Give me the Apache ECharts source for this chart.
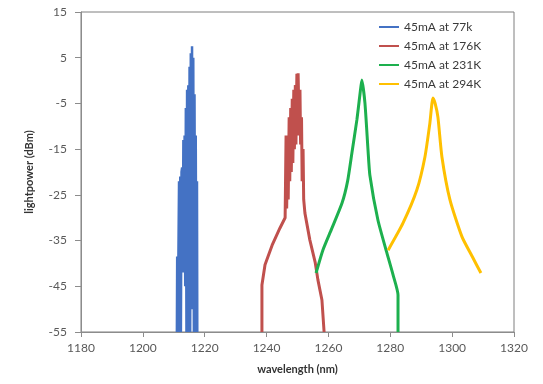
<!DOCTYPE html>
<html>
<head>
<meta charset="utf-8">
<script src="https://cdn.jsdelivr.net/npm/echarts@6/dist/echarts.min.js"></script>
<style>
  html, body { margin: 0; padding: 0; background: #fff; }
  #chart { width: 543px; height: 384px; }
</style>
</head>
<body>
<div id="chart"></div>
<script>
// legend names
const seriesNames = ['45mA at 77k', '45mA at 176K', '45mA at 231K', '45mA at 294K']
const seriesColors = ['#4472C4', '#C0504D', '#1DB04E', '#FFC000']

// 77K : very narrow, noisy peak
const wl77 = [1211.0, 1211.1, 1211.3, 1211.5, 1211.7, 1211.9, 1212.1, 1212.3, 1212.5, 1212.7, 1212.9, 1213.1, 1213.3, 1213.5, 1213.7, 1213.9, 1214.1, 1214.3, 1214.5, 1214.7, 1214.9, 1215.1, 1215.3, 1215.5, 1215.7, 1215.9, 1216.1, 1216.3, 1216.5, 1216.7, 1216.9, 1217.1, 1217.3, 1217.5, 1217.6]
const pw77 = [-55, -38.5, -55, -38, -22, -55, -21, -55, -20, -19, -42, -13, -42, -12, -45, -6, -55, -2, -20, -1, -55, 3, -55, 6, -50, 7.5, -45, 5, -55, -3, -55, -12, -55, -22, -55]

// 176K
const wl176 = [1238.5, 1238.5, 1239.5, 1241.8, 1244.3, 1246.0, 1246.3, 1246.5, 1246.8, 1247.0, 1247.3, 1247.5, 1247.8, 1248.0, 1248.3, 1248.5, 1248.8, 1249.0, 1249.3, 1249.5, 1249.8, 1250.0, 1250.2, 1250.5, 1250.8, 1251.0, 1251.3, 1251.5, 1251.8, 1252.0, 1252.4, 1254.0, 1255.7, 1256.6, 1257.9, 1258.6]
const pw176 = [-55, -44.7, -40.3, -36, -32.3, -30, -12, -28, -14, -26, -8, -22, -6, -20, -4, -18, -2, -15, -1, -14, 1.5, -12, 1.6, -10, -2, -14, -8, -22, -15, -26, -29, -34.9, -39.7, -43.6, -48, -55]

// 231K
const wl231 = [1256.0, 1258.2, 1261.0, 1264.4, 1266.2, 1267.6, 1269.2, 1270.2, 1270.8, 1271.8, 1272.8, 1273.4, 1276.0, 1278.9, 1280.9, 1282.5, 1282.5]
const pw231 = [-42.1, -37.1, -32.5, -26.8, -22, -15.8, -8.6, -3, 0.1, -4.9, -15.2, -20.7, -30.5, -37.7, -42.5, -46.9, -55]

// 294K
const wl294 = [1279.3, 1284.1, 1288.6, 1291.2, 1292.8, 1293.8, 1294.5, 1295.4, 1296.7, 1299.3, 1303.2, 1306.5, 1309.3]
const pw294 = [-37.1, -31.2, -23.9, -16.7, -9.3, -3.8, -5, -8, -16.7, -26.1, -34.2, -38.5, -42.1]

const xTicks = [1180, 1320, 20]
const yTicks = [-55, 15, 10]

const pair = (xs, ys) => xs.map((x, i) => [x, ys[i]])
const allData = [pair(wl77, pw77), pair(wl176, pw176), pair(wl231, pw231), pair(wl294, pw294)]

const myChart = echarts.init(document.getElementById('chart'))
const font = 'Lato, "Liberation Sans", sans-serif'

const option = {
  animation: false,
  textStyle: { fontFamily: font },
  grid: {
    left: 81,
    right: 29,
    top: 12,
    bottom: 52,
    show: true,
    borderColor: '#7f7f7f',
    borderWidth: 1
  },
  legend: {
    orient: 'vertical',
    left: 374,
    top: 16,
    icon: 'rect',
    itemWidth: 20,
    itemHeight: 2,
    itemGap: 7,
    data: seriesNames,
    textStyle: { color: '#3a3a3a', fontSize: 12, fontFamily: font }
  },
  xAxis: {
    type: 'value',
    min: xTicks[0],
    max: xTicks[1],
    interval: xTicks[2],
    name: 'wavelength (nm)',
    nameLocation: 'middle',
    nameGap: 32,
    nameTextStyle: { fontWeight: 'bold', fontSize: 11, color: '#333' },
    axisLine: { show: true, onZero: false, lineStyle: { color: '#8c8c8c' } },
    axisTick: { show: true, length: 5, lineStyle: { color: '#8c8c8c' } },
    axisLabel: { color: '#595959', fontSize: 12, margin: 10, formatter: v => String(v) },
    splitLine: { show: false }
  },
  yAxis: {
    type: 'value',
    min: yTicks[0],
    max: yTicks[1],
    interval: yTicks[2],
    name: 'lightpower (dBm)',
    nameLocation: 'middle',
    nameGap: 46,
    nameTextStyle: { fontWeight: 'bold', fontSize: 11, color: '#333' },
    axisLine: { show: true, onZero: false, lineStyle: { color: '#8c8c8c' } },
    axisTick: { show: true, length: 6, lineStyle: { color: '#8c8c8c' } },
    axisLabel: { color: '#595959', fontSize: 12, margin: 14 },
    splitLine: { show: false }
  },
  series: allData.map((d, i) => ({
    name: seriesNames[i],
    type: 'line',
    data: d,
    symbol: 'none',
    color: seriesColors[i],
    lineStyle: { width: i === 0 ? 2.5 : 3, color: seriesColors[i] },
    smooth: i >= 2 ? 0.2 : false
  }))
}

myChart.setOption(option)
</script>
</body>
</html>
